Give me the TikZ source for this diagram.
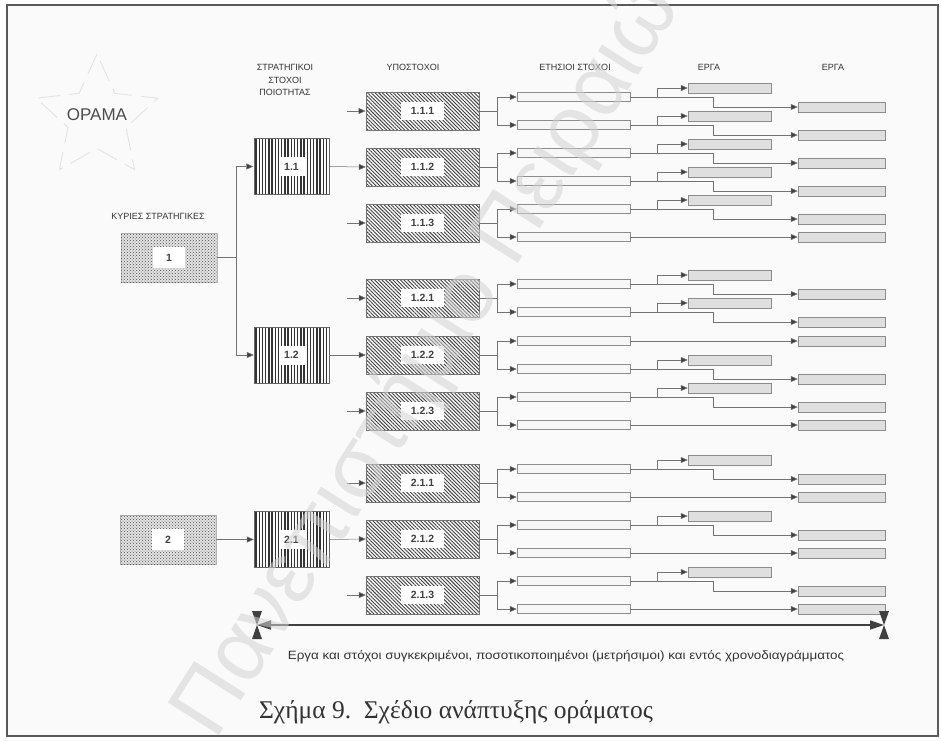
\documentclass[tikz,border=0pt]{standalone}
\usepackage{fontspec}
\setmainfont{Liberation Sans}
\newfontfamily\capfont{Liberation Serif}
\usetikzlibrary{patterns,patterns.meta,arrows.meta,shapes.geometric,calc}
\begin{document}
\begin{tikzpicture}[x=1pt,y=-1pt,
  ln/.style={draw=black!55,line width=0.5pt},
  arr/.style={draw=black!55,line width=0.5pt,-{Triangle[length=7pt,width=6pt,fill=black!75]}},
  hdr/.style={font=\fontsize{9}{12.5}\selectfont,text=black!80,align=center,inner sep=0},
  strat/.style={rectangle,inner sep=0,minimum width=96pt,minimum height=49pt,draw=gray!55,fill=gray!22,
     postaction={pattern=crosshatch dots,pattern color=gray!60!black}},
  goal/.style={rectangle,inner sep=0,minimum width=75pt,minimum height=56pt,draw=black!60,line width=0.4pt,
     pattern={Lines[angle=90,distance=3.2pt,line width=1.4pt]},pattern color=black!80},
  sub/.style={rectangle,inner sep=0,minimum width=113pt,minimum height=38pt,draw=black!55,line width=0.4pt,
     pattern={Lines[angle=-45,distance=2.6pt,line width=0.9pt]},pattern color=black!75},
  lbl/.style={rectangle,fill=white,inner sep=0,font=\bfseries\fontsize{10.5}{10.5}\selectfont,text=black!75},
  ann/.style={rectangle,inner sep=0,minimum width=113pt,minimum height=9pt,draw=black!45,line width=0.5pt,fill=gray!6},
  wa/.style={rectangle,inner sep=0,minimum width=83pt,minimum height=10pt,draw=black!45,line width=0.5pt,fill=gray!25},
  wb/.style={rectangle,inner sep=0,minimum width=87pt,minimum height=10pt,draw=black!45,line width=0.5pt,fill=gray!25},
  tip/.style={fill=black!75}
]
% canvas
\useasboundingbox (0,0) rectangle (941,740);
\fill[white] (0,0) rectangle (941,740);
\draw[line width=1.3pt,black!65,fill=gray!4] (7,5) rectangle (938,736);

% vision star
\node[star,star points=5,star point ratio=2.1,minimum size=128pt,inner sep=0,draw=gray!22,line width=0.9pt,dash pattern=on 22pt off 9pt] (star) at (97,118) {};
\node[font=\fontsize{17}{17}\selectfont,text=black!70,inner sep=0] (vision) at (97,115) {ΟΡΑΜΑ};

% headers
\node[hdr] (h1) at (285,80) {ΣΤΡΑΤΗΓΙΚΟΙ\\ΣΤΟΧΟΙ\\ΠΟΙΟΤΗΤΑΣ};
\node[hdr] (h2) at (413,67) {ΥΠΟΣΤΟΧΟΙ};
\node[hdr] (h3) at (575,67) {ΕΤΗΣΙΟΙ ΣΤΟΧΟΙ};
\node[hdr] (h4) at (709,67) {ΕΡΓΑ};
\node[hdr] (h5) at (833,67) {ΕΡΓΑ};
\node[hdr] (h0) at (158,216) {ΚΥΡΙΕΣ ΣΤΡΑΤΗΓΙΚΕΣ};

% main strategies
\node[strat] (k1) at (169,257.5) {};
\node[lbl,minimum width=32pt,minimum height=21pt] (k1l) at (k1) {1};
\node[strat] (k2) at (168,539.5) {};
\node[lbl,minimum width=32pt,minimum height=21pt] (k2l) at (k2) {2};

% quality goals
\foreach \nm/\t/\y in {g11/1.1/166.5, g12/1.2/355, g21/2.1/539.5}{
  \node[goal] (\nm) at (291.5,\y) {};
  \node[lbl,minimum width=26pt,minimum height=19pt] (\nm l) at (\nm) {\t};
}

% sub-goals
\foreach \n/\t/\y in {111/1.1.1/111,112/1.1.2/167,113/1.1.3/223,121/1.2.1/298,122/1.2.2/355,123/1.2.3/411,211/2.1.1/483,212/2.1.2/539,213/2.1.3/595}{
  \node[sub] (s\n) at (422.5,\y) {};
  \node[lbl,minimum width=43pt,minimum height=18pt] (s\n l) at (s\n) {\t};
}

% strategy -> goal connectors
\draw[arr] (k1.east) -- ++(19,0) |- (g11.west);
\draw[arr] (k1.east) -- ++(19,0) |- (g12.west);
\draw[arr] (k2.east) -- (g21.west);
\draw[arr] (g11.east) -- (s112.west);
\draw[arr] (g12.east) -- (s122.west);
\draw[arr] (g21.east) -- (s212.west);
\foreach \n in {111,113,121,123,211,213}{
  \coordinate (st\n) at ([xshift=-19pt]s\n.west);
  \draw[arr] (st\n) -- (s\n.west);
}

% annual goals
\foreach \n/\y in {111/111,112/167,113/223,121/298,122/355,123/411,211/483,212/539,213/595}{
  \node[ann] (a\n) at (573.5,\y-14) {};
  \node[ann] (b\n) at (573.5,\y+14) {};
  \coordinate (j\n) at (497,\y);
  \draw[ln] (s\n.east) -- (j\n);
  \draw[ln] (j\n |- a\n.west) -- (j\n |- b\n.west);
  \draw[arr] (j\n |- a\n.west) -- (a\n.west);
  \draw[arr] (j\n |- b\n.west) -- (b\n.west);
}

% projects: split connectors
\foreach \nm/\i in {a111/1,b111/2,a112/3,b112/4,a113/5,a121/6,b121/7,b122/8,a123/9,a211/10,a212/11,a213/12}{
  \node[wa] (p\i) at ([shift={(156,-9)}]\nm.center) {};
  \node[wb] (qs\i) at ([shift={(268,10)}]\nm.center) {};
  \draw[arr] (\nm.east) -- ++(27,0) |- (p\i.west);
  \draw[arr] (\nm.east) -- ++(83,0) |- (qs\i.west);
}
% projects: direct connectors
\foreach \nm/\i in {b113/1,a122/2,b123/3,b211/4,b212/5,b213/6}{
  \node[wb] (qd\i) at ([shift={(268,0)}]\nm.center) {};
  \draw[arr] (\nm.east) -- (qd\i.west);
}

% bottom span arrow
\coordinate (bl) at (257,625);
\coordinate (br) at (884,625);
\fill[tip] ($(bl)+(-5,-14)$) -- ($(bl)+(5,-14)$) -- (bl) -- cycle;
\fill[tip] ($(bl)+(-5,14)$) -- ($(bl)+(5,14)$) -- (bl) -- cycle;
\fill[tip] ($(br)+(-5,-14)$) -- ($(br)+(5,-14)$) -- (br) -- cycle;
\fill[tip] ($(br)+(-5,14)$) -- ($(br)+(5,14)$) -- (br) -- cycle;
\draw[line width=1.6pt,black!75,{Triangle[length=14pt,width=9pt]}-{Triangle[length=14pt,width=9pt]}] (bl) -- (br);
\node[font=\fontsize{12}{14}\selectfont,text=black!80,inner sep=0,xscale=1.12] (note) at (566,656)
  {Εργα και στόχοι συγκεκριμένοι, ποσοτικοποιημένοι (μετρήσιμοι) και εντός χρονοδιαγράμματος};

% caption
\node[font=\capfont\fontsize{25.5}{28}\selectfont,text=black!80,inner sep=0] (cap) at (456,712)
  {Σχήμα 9.\ \ Σχέδιο ανάπτυξης οράματος};

% watermark
\node[rotate=57.6,anchor=base west,inner sep=0,font=\fontsize{88}{88}\selectfont,text=gray!35,opacity=0.55] (wm) at (215,742)
  {Πανεπιστήμιο Πειραιώς};
\end{tikzpicture}
\end{document}
